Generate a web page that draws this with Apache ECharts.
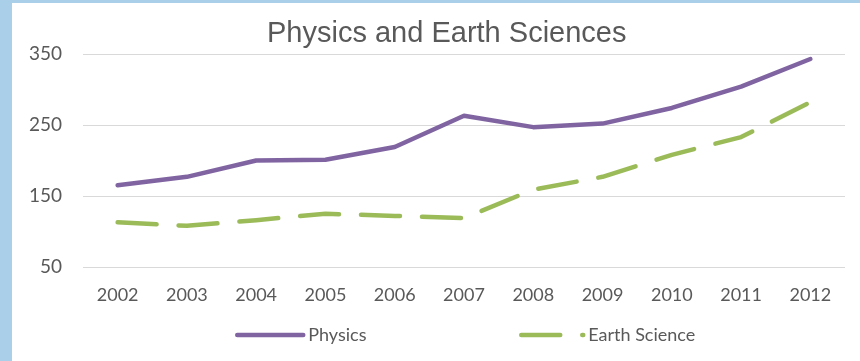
<!DOCTYPE html>
<html>
<head>
<meta charset="utf-8">
<script src="https://cdn.jsdelivr.net/npm/echarts@6/dist/echarts.min.js"></script>
<style>
  html, body { margin: 0; padding: 0; background: #fff; }
  #chart { width: 860px; height: 361px; }
</style>
</head>
<body>
<div id="chart"></div>
<script>
const years = ['2002', '2003', '2004', '2005', '2006', '2007', '2008', '2009', '2010', '2011', '2012'];
const physics = [165, 177, 200, 201, 219, 263, 247, 252, 274, 304, 343];
const earthScience = [113, 108, 116, 125, 122, 119, 159, 177, 208, 233, 282];

const labelColor = '#595959';
const font = 'Lato';

let chart = echarts.init(document.getElementById('chart'));
chart.setOption({
  animation: false,
  backgroundColor: '#fff',
  graphic: [
    { type: 'rect', left: 0, top: 0, shape: { width: 12, height: 361 }, style: { fill: '#a9d0e8' } },
    { type: 'rect', left: 0, top: 0, shape: { width: 860, height: 3 }, style: { fill: '#a9d0e8' } },
  ],
  title: {
    text: 'Physics and Earth Sciences',
    left: 262,
    top: 14,
    textStyle: {
      color: labelColor,
      fontFamily: 'Liberation Sans',
      fontWeight: 'normal',
      fontSize: 29,
    },
  },
  legend: [
    {
      data: ['Physics'],
      left: 235,
      top: 326,
      padding: 0,
      itemWidth: 66,
      itemHeight: 16,
      itemStyle: { opacity: 0 },
      lineStyle: { width: 4.5, cap: 'round' },
      textStyle: { color: labelColor, fontFamily: font, fontSize: 18 },
    },
    {
      data: ['Earth Science'],
      left: 519,
      top: 326,
      padding: 0,
      itemWidth: 62,
      itemHeight: 16,
      itemStyle: { opacity: 0 },
      lineStyle: { width: 4.5, cap: 'round' },
      textStyle: { color: labelColor, fontFamily: font, fontSize: 18 },
    },
  ],
  grid: {
    left: 83,
    right: 15,
    top: 54,
    bottom: 94,
  },
  xAxis: {
    type: 'category',
    data: years,
    axisLine: { show: false },
    axisTick: { show: false },
    axisLabel: { color: labelColor, fontFamily: font, fontSize: 18, margin: 19 },
  },
  yAxis: {
    type: 'value',
    min: 50,
    max: 350,
    interval: 100,
    axisLabel: { color: labelColor, fontFamily: font, fontSize: 19, margin: 21 },
    splitLine: { lineStyle: { color: '#d9d9d9', width: 1 } },
  },
  series: [
    {
      name: 'Physics',
      type: 'line',
      data: physics,
      symbol: 'none',
      color: '#8064a2',
      lineStyle: { width: 4.5, color: '#8064a2', cap: 'round', join: 'round' },
    },
    {
      name: 'Earth Science',
      type: 'line',
      data: earthScience,
      symbol: 'none',
      color: '#9bbb59',
      lineStyle: { width: 4.5, color: '#9bbb59', type: [39, 22], cap: 'round', join: 'round' },
    },
  ],
});
</script>
</body>
</html>
